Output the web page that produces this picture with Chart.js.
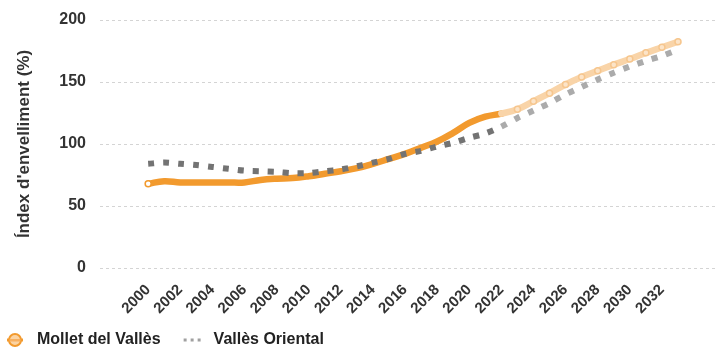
<!DOCTYPE html>
<html>
<head>
<meta charset="utf-8">
<script src="https://cdn.jsdelivr.net/npm/chart.js@4/dist/chart.umd.min.js"></script>
<style>
  html, body { margin: 0; padding: 0; background: #ffffff; }
  #wrap { width: 721px; height: 352px; position: relative; }
</style>
</head>
<body>
<div id="wrap"><canvas id="chart"></canvas></div>
<script>
// Ageing index (%) per year; values from 2023 on are projections
const years = [2000, 2001, 2002, 2003, 2004, 2005, 2006, 2007, 2008, 2009,
               2010, 2011, 2012, 2013, 2014, 2015, 2016, 2017, 2018, 2019,
               2020, 2021, 2022, 2023, 2024, 2025, 2026, 2027, 2028, 2029,
               2030, 2031, 2032, 2033];
const molletDelValles = [68, 70, 69, 69, 69, 69, 69, 71, 72, 72.5,
                         74, 76, 78, 80.5, 84, 88, 92, 97, 102, 109,
                         117, 122, 124.5, 128, 134.5, 141, 148, 154, 159, 164,
                         168.5, 173.5, 178, 182.5];
const vallesOriental = [84, 85, 84, 83, 81.5, 80, 78.5, 78, 77.5, 76.5,
                        76.5, 78, 79.5, 82, 85, 88, 92, 94.5, 98, 101,
                        105, 108.5, 114, 121, 127, 133, 140, 146, 152, 157.5,
                        162.5, 167, 171, 176];
const tickYears = [2000, 2002, 2004, 2006, 2008, 2010, 2012, 2014, 2016,
                   2018, 2020, 2022, 2024, 2026, 2028, 2030, 2032];
const yTicks = [0, 50, 100, 150, 200];
const lastObservedYear = 2022;

const ORANGE = '#F29A2E';
const PEACH = '#F9D4A8';
const GREY = '#737373';
const LIGHT_GREY = '#ABABAB';
const TEXT = '#333333';
const FONT = "'Liberation Sans', Arial, Helvetica, sans-serif";

const toPoints = values => years.map((y, i) => ({ x: y, y: values[i] }));
const projected = ctx => ctx.p0.parsed.x >= lastObservedYear;

// Legend symbols
function molletIcon() {
  const c = document.createElement('canvas');
  c.width = 22; c.height = 16;
  const g = c.getContext('2d');
  g.strokeStyle = ORANGE; g.lineWidth = 3;
  g.beginPath(); g.moveTo(3, 8); g.lineTo(19, 8); g.stroke();
  g.beginPath(); g.arc(11, 8, 6, 0, Math.PI * 2);
  g.fillStyle = '#FBD3A2'; g.fill();
  g.lineWidth = 2; g.strokeStyle = ORANGE; g.stroke();
  g.fillStyle = '#F7B061'; g.fillRect(5.5, 7, 11, 2.5);
  return c;
}
function dotsIcon() {
  const c = document.createElement('canvas');
  c.width = 24; c.height = 6;
  const g = c.getContext('2d');
  g.fillStyle = '#A0A0A0';
  [4, 11, 18].forEach(x => g.fillRect(x, 1.5, 3, 3));
  return c;
}

// Nudges the legend row towards the left edge while keeping a wide gap between entries
const legendShift = {
  id: 'legendShift',
  afterLayout(chart) {
    if (chart.legend) chart.legend.left -= 16;
  }
};

new Chart(document.getElementById('chart'), {
  type: 'line',
  data: {
    datasets: [
      {
        label: 'Mollet del Vallès',
        data: toPoints(molletDelValles),
        order: 1,
        borderColor: ORANGE,
        borderWidth: 6.5,
        borderCapStyle: 'round',
        borderJoinStyle: 'round',
        tension: 0.4,
        segment: { borderColor: ctx => projected(ctx) ? PEACH : ORANGE },
        pointRadius: ctx => (ctx.dataIndex === 0 || years[ctx.dataIndex] > lastObservedYear) ? 3 : 0,
        pointBackgroundColor: ctx => ctx.dataIndex === 0 ? '#ffffff' : '#FCE4C8',
        pointBorderColor: ctx => ctx.dataIndex === 0 ? ORANGE : '#F6C68E',
        pointBorderWidth: 1.5,
        pointHoverRadius: 0
      },
      {
        label: 'Vallès Oriental',
        data: toPoints(vallesOriental),
        order: 0,
        borderColor: GREY,
        borderWidth: 6,
        borderDash: [6, 9],
        borderCapStyle: 'butt',
        tension: 0.3,
        segment: { borderColor: ctx => projected(ctx) ? LIGHT_GREY : GREY },
        pointRadius: 0,
        pointHoverRadius: 0
      }
    ]
  },
  options: {
    responsive: true,
    maintainAspectRatio: false,
    animation: false,
    devicePixelRatio: 1,
    layout: { padding: { top: 20, right: 0, left: 0, bottom: 0 } },
    scales: {
      x: {
        type: 'linear',
        min: 1997,
        max: 2035.4,
        afterBuildTicks: axis => { axis.ticks = tickYears.map(v => ({ value: v })); },
        afterFit: axis => { axis.height = 47; },
        grid: { display: false, drawTicks: false },
        border: { display: false },
        ticks: {
          autoSkip: false,
          minRotation: 45,
          maxRotation: 45,
          padding: 13,
          color: TEXT,
          font: { family: FONT, size: 15, weight: 'bold' },
          callback: v => String(v)
        }
      },
      y: {
        min: 0,
        max: 200,
        afterBuildTicks: axis => { axis.ticks = yTicks.map(v => ({ value: v })); },
        afterFit: axis => { axis.width = 100; },
        grid: { color: '#D4D4D4', lineWidth: 1, drawTicks: true, tickLength: 11, tickColor: 'rgba(0,0,0,0)' },
        border: { display: false, dash: [3, 3] },
        ticks: {
          padding: 3,
          color: TEXT,
          font: { family: FONT, size: 16, weight: 'bold' }
        },
        title: {
          display: true,
          text: "Índex d'envelliment (%)",
          color: TEXT,
          font: { family: FONT, size: 17, weight: 'bold' },
          padding: { top: 14, bottom: 0 }
        }
      }
    },
    plugins: {
      tooltip: { enabled: false },
      legend: {
        position: 'bottom',
        align: 'start',
        maxHeight: 37,
        labels: {
          usePointStyle: true,
          pointStyleWidth: 28,
          padding: 17,
          color: '#222222',
          font: { family: FONT, size: 16, weight: 'bold' },
          generateLabels: () => [
            { text: 'Mollet del Vallès', pointStyle: molletIcon(), datasetIndex: 0, fontColor: '#222222', lineWidth: 0, strokeStyle: 'transparent', fillStyle: 'transparent' },
            { text: 'Vallès Oriental', pointStyle: dotsIcon(), datasetIndex: 1, fontColor: '#222222', lineWidth: 0, strokeStyle: 'transparent', fillStyle: 'transparent' }
          ]
        }
      }
    }
  },
  plugins: [legendShift]
});
</script>
</body>
</html>
